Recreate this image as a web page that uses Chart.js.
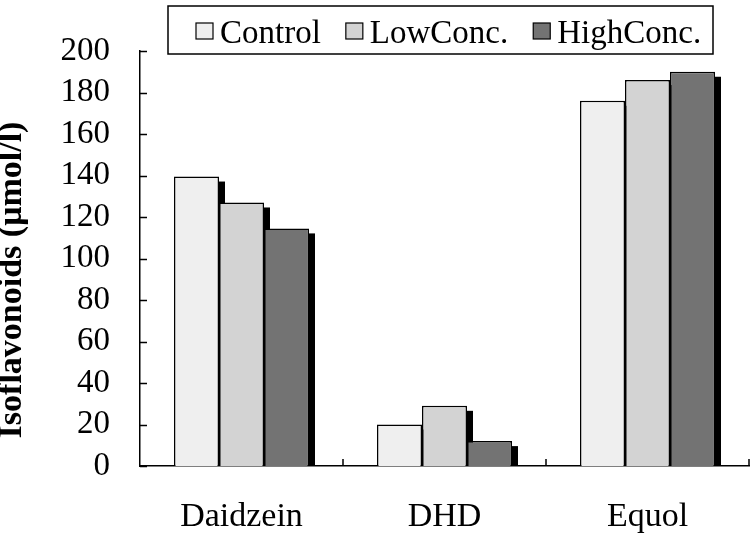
<!DOCTYPE html>
<html>
<head>
<meta charset="utf-8">
<script src="https://cdn.jsdelivr.net/npm/chart.js@4"></script>
<style>
  html, body { margin: 0; padding: 0; background: #fff; }
  #wrap { width: 751px; height: 539px; }
</style>
</head>
<body>
<div id="wrap"><canvas id="isoChart"></canvas></div>
<script>
const categories = ['Daidzein', 'DHD', 'Equol'];
const seriesNames = ['Control', 'LowConc.', 'HighConc.'];
const control = [139.5, 20, 176];
const lowConc = [127, 29, 186];
const highConc = [114.5, 12, 190];
const yTitle = 'Isoflavonoids (μmol/l)';

const fills = ['#efefef', '#d3d3d3', '#737373'];
const serif = "'Liberation Serif', 'Times New Roman', serif";

Chart.defaults.font.family = serif;
Chart.defaults.color = '#000';

// black drop shadow behind each bar
const shadowPlugin = {
  id: 'barShadow',
  beforeDatasetsDraw(chart) {
    const ctx = chart.ctx;
    ctx.save();
    ctx.fillStyle = '#000';
    chart.data.datasets.forEach((ds, i) => {
      chart.getDatasetMeta(i).data.forEach(bar => {
        const p = bar.getProps(['x', 'y', 'base', 'width'], true);
        ctx.fillRect(p.x + p.width / 2, p.y + 5, 6, p.base - p.y - 5);
      });
    });
    ctx.restore();
  }
};

// inside tick marks, rotated y title and boxed legend
const extrasPlugin = {
  id: 'extras',
  afterDraw(chart) {
    const ctx = chart.ctx;
    const area = chart.chartArea;
    const ys = chart.scales.y;
    ctx.save();
    ctx.strokeStyle = '#000';
    ctx.lineWidth = 1.5;
    ctx.beginPath();
    ys.ticks.forEach(t => {
      const y = Math.round(ys.getPixelForValue(t.value)) + 0.5;
      ctx.moveTo(area.left, y);
      ctx.lineTo(area.left + 7, y);
    });
    const n = categories.length;
    for (let i = 1; i <= n; i++) {
      const x = area.left + i * area.width / n;
      ctx.moveTo(x, area.bottom);
      ctx.lineTo(x, area.bottom - 7);
    }
    ctx.stroke();

    // y title
    ctx.save();
    ctx.translate(21, 280);
    ctx.rotate(-Math.PI / 2);
    ctx.font = 'bold 34px ' + serif;
    ctx.fillStyle = '#000';
    ctx.textAlign = 'center';
    ctx.textBaseline = 'alphabetic';
    ctx.fillText(yTitle, 0, 0);
    ctx.restore();

    // legend
    ctx.fillStyle = '#fff';
    ctx.fillRect(168, 6, 545, 48);
    ctx.lineWidth = 1.5;
    ctx.strokeRect(168, 6, 545, 48);
    ctx.font = '33px ' + serif;
    ctx.textBaseline = 'alphabetic';
    ctx.textAlign = 'left';
    let x = 196;
    chart.data.datasets.forEach(ds => {
      ctx.fillStyle = ds.backgroundColor;
      ctx.fillRect(x, 23, 17, 16);
      ctx.lineWidth = 1.2;
      ctx.strokeRect(x, 23, 17, 16);
      ctx.fillStyle = '#000';
      ctx.fillText(ds.label, x + 24, 43);
      x += 24 + ctx.measureText(ds.label).width + 25;
    });
    ctx.restore();
  }
};

const ctx = document.getElementById('isoChart');

new Chart(ctx, {
  type: 'bar',
  data: {
    labels: categories,
    datasets: [
      { label: seriesNames[0], data: control, backgroundColor: fills[0] },
      { label: seriesNames[1], data: lowConc, backgroundColor: fills[1] },
      { label: seriesNames[2], data: highConc, backgroundColor: fills[2] }
    ].map(d => Object.assign(d, {
      borderColor: '#000',
      borderWidth: 1.5,
      borderSkipped: 'bottom',
      categoryPercentage: 0.665,
      barPercentage: 1.0
    }))
  },
  options: {
    responsive: true,
    maintainAspectRatio: false,
    animation: false,
    layout: { padding: { top: 51, right: 2, left: 0, bottom: 0 } },
    plugins: {
      legend: { display: false },
      tooltip: { enabled: false }
    },
    scales: {
      x: {
        grid: { display: false, drawTicks: false },
        border: { color: '#000', width: 1.5 },
        ticks: { font: { size: 34 }, padding: 31, color: '#000' },
        afterFit(scale) { scale.height = 73; }
      },
      y: {
        min: 0,
        max: 200,
        grid: { display: false, drawTicks: false },
        border: { color: '#000', width: 1.5 },
        ticks: { stepSize: 20, autoSkip: false, font: { size: 33, lineHeight: 1 }, padding: 30, color: '#000' },
        afterFit(scale) { scale.width = 140; }
      }
    }
  },
  plugins: [shadowPlugin, extrasPlugin]
});
</script>
</body>
</html>
